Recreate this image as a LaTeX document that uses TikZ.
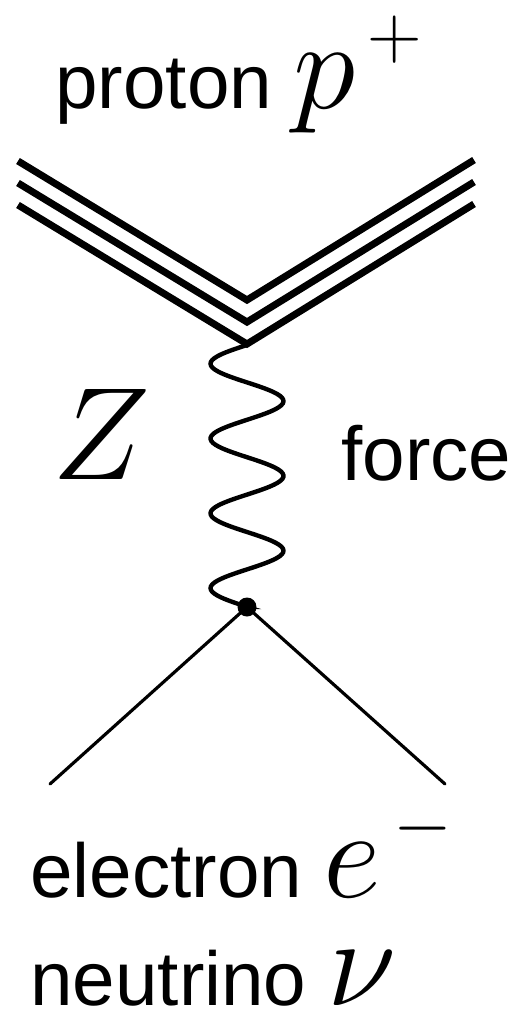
\RequirePackage{fix-cm}
\documentclass[tikz,border=0pt]{standalone}
\usepackage{fontspec}
\setsansfont{Liberation Sans}
\usetikzlibrary{positioning,calc}
\newcommand{\sym}[1]{{\fontsize{72}{72}\selectfont$#1$}}
\newcommand{\charge}[2]{\raisebox{#2}{\fontsize{43}{43}\selectfont$#1$}}

\begin{document}
\begin{tikzpicture}[x=0.02cm, y=-0.02cm,
  label/.style={inner sep=0pt, anchor=base west, font=\sffamily\fontsize{43.5}{50}\selectfont},
  quark/.style={line width=4pt},
  boson/.style={line width=2.5pt},
  lepton/.style={line width=1.8pt, line cap=round},
  vertex/.style={circle, fill, inner sep=0pt, minimum size=0.38cm}]
\useasboundingbox (0,0) rectangle (529,1009);
% labels
\node[label] (proton) at (55,108) {proton \sym{p}\hspace{7pt}\charge{+}{28pt}};
\node[label] (zname) at (52,479) {{\fontsize{75}{75}\selectfont$Z$}};
\node[label] (force) at (341,480) {force};
\node[label] (electron) at (30,897) {electron \sym{e}\hspace{7pt}\charge{-}{28pt}};
\node[label] (neutrino) at (30,1005) {neutrino \sym{\nu}};
% proton: three quark lines
\coordinate (pl) at (18,161);
\coordinate (pv) at (247,300);
\coordinate (pr) at (474,160);
\foreach \dy in {0,22,44}
  \draw[quark] ($(pl)+(0,\dy)$) -- ($(pv)+(0,\dy)$) -- ($(pr)+(0,\dy)$);
\coordinate (top) at ($(pv)+(0,45)$);
% Z boson
\node[vertex] (dot) at (247,607) {};
\draw[boson, shift={(top)}] plot[domain=0:262, samples=140, smooth] ({-36.5*sin(\x/74.8*360)}, \x) -- (dot.center);
% electron and neutrino
\coordinate (el) at (50,784);
\coordinate (er) at (445,784);
\draw[lepton] (el) -- (dot.center) -- (er);
\end{tikzpicture}
\end{document}
